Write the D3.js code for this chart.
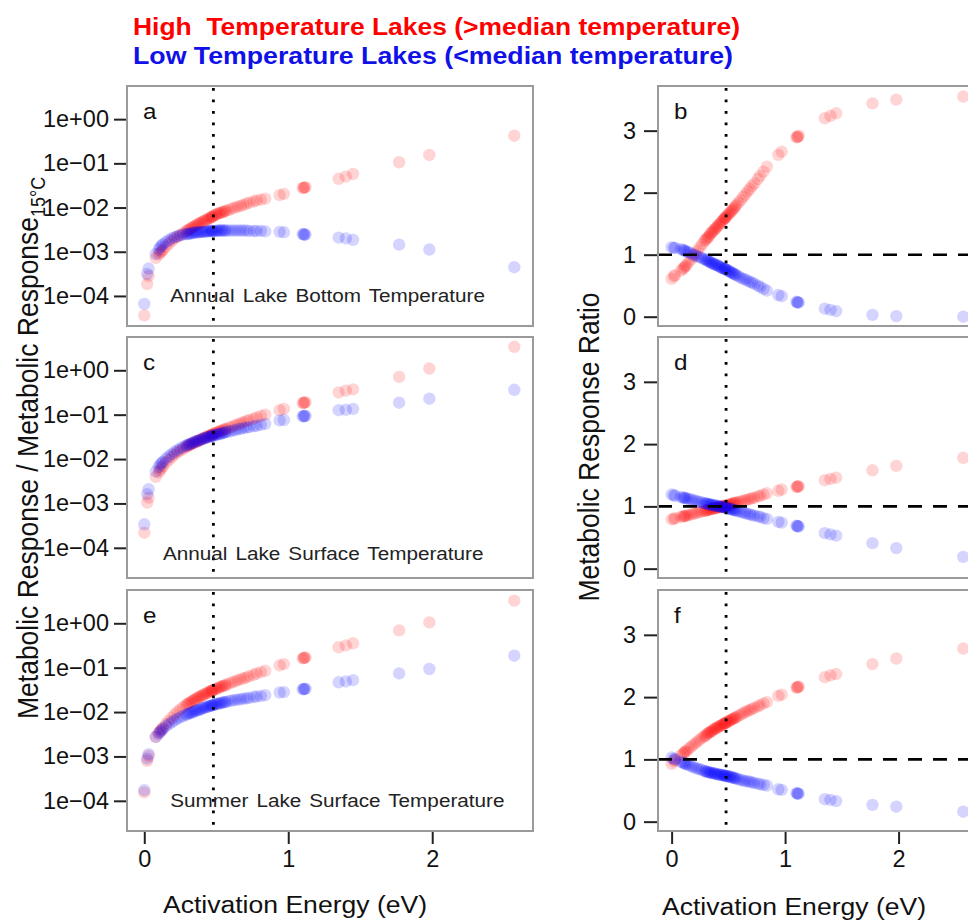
<!DOCTYPE html>
<head>
  <meta charset="utf-8">
  <script src="https://d3js.org/d3.v7.min.js"></script>
  <style>
    body { margin: 0; background: #fff; font-family: "Liberation Sans", Arial, sans-serif; }
    svg { display: block; }
    text { white-space: pre; }
  </style>
</head>
<body>
  <svg width="968" height="921"></svg>
  <script>
    // activation energy (eV) of each response, shared by every panel
    // (last row: responses read from the dense middle of the band)
    var energy = [0.00, 0.02, 0.03, 0.08,
      0.10, 0.11, 0.12, 0.13,
      0.15, 0.17, 0.19, 0.21, 0.23, 0.25, 0.27, 0.29,
      0.31, 0.33, 0.35, 0.36, 0.38, 0.40, 0.41, 0.43, 0.44,
      0.46, 0.47, 0.48, 0.49,
      0.51, 0.53, 0.55, 0.57, 0.59, 0.61, 0.63, 0.65, 0.67, 0.69, 0.71, 0.73,
      0.76, 0.78, 0.81, 0.84,
      0.94, 0.97,
      1.10, 1.11, 1.12,
      1.35, 1.40, 1.45,
      1.77, 1.98, 2.57,
      0.30, 0.32, 0.34, 0.37, 0.39, 0.42, 0.45, 0.47, 0.50, 0.52, 0.54, 0.56, 1.11];

    // log10 of metabolic response / response at 15C
    var bottomHighLog = [-4.44, -3.73, -3.55, -3.14,
      -3.06, -3.02, -2.99, -2.96,
      -2.89, -2.82, -2.76, -2.70, -2.66, -2.62, -2.58, -2.54,
      -2.50, -2.46, -2.42, -2.40, -2.36, -2.33, -2.31, -2.28, -2.26,
      -2.23, -2.21, -2.19, -2.17,
      -2.14, -2.12, -2.10, -2.07, -2.05, -2.02, -2.00, -1.98, -1.96, -1.94, -1.91, -1.89,
      -1.86, -1.84, -1.82, -1.80,
      -1.72, -1.69,
      -1.56, -1.55, -1.54,
      -1.35, -1.30, -1.24,
      -0.975, -0.81, -0.375,
      -2.52, -2.48, -2.44, -2.38, -2.35, -2.30, -2.25, -2.21, -2.16, -2.13, -2.11, -2.08, -1.55];
    var bottomLowLog = [-4.18, -3.50, -3.38, -3.05,
      -2.95, -2.90, -2.86, -2.83,
      -2.78, -2.74, -2.70, -2.67, -2.65, -2.63, -2.61, -2.60,
      -2.59, -2.58, -2.57, -2.56, -2.56, -2.55, -2.55, -2.54, -2.54,
      -2.53, -2.53, -2.53, -2.53,
      -2.52, -2.52, -2.52, -2.52, -2.52, -2.52, -2.52, -2.52, -2.52, -2.52, -2.52, -2.53,
      -2.53, -2.53, -2.53, -2.54,
      -2.55, -2.56,
      -2.60, -2.61, -2.61,
      -2.68, -2.70, -2.73,
      -2.84, -2.95, -3.35,
      -2.60, -2.59, -2.57, -2.56, -2.55, -2.55, -2.54, -2.53, -2.53, -2.52, -2.52, -2.52, -2.61];
    var surfaceHighLog = [-3.66, -2.98, -2.87, -2.40,
      -2.30, -2.25, -2.20, -2.16,
      -2.08, -2.02, -1.96, -1.90, -1.85, -1.81, -1.77, -1.73,
      -1.69, -1.66, -1.63, -1.61, -1.58, -1.55, -1.53, -1.50, -1.49,
      -1.46, -1.45, -1.43, -1.42,
      -1.39, -1.37, -1.34, -1.32, -1.29, -1.27, -1.24, -1.22, -1.19, -1.17, -1.14, -1.12,
      -1.09, -1.06, -1.03, -1.00,
      -0.90, -0.87,
      -0.74, -0.73, -0.72,
      -0.50, -0.46, -0.43,
      -0.15, 0.04, 0.53,
      -1.71, -1.68, -1.64, -1.60, -1.57, -1.52, -1.48, -1.45, -1.41, -1.38, -1.36, -1.33, -0.73];
    var surfaceLowLog = [-3.47, -2.79, -2.68, -2.28,
      -2.18, -2.13, -2.09, -2.06,
      -1.99, -1.94, -1.89, -1.84, -1.80, -1.76, -1.73, -1.70,
      -1.67, -1.64, -1.61, -1.60, -1.58, -1.55, -1.54, -1.52, -1.51,
      -1.49, -1.48, -1.47, -1.46,
      -1.44, -1.43, -1.41, -1.39, -1.38, -1.36, -1.35, -1.33, -1.32, -1.30, -1.29, -1.28,
      -1.26, -1.25, -1.23, -1.21,
      -1.13, -1.12,
      -1.04, -1.03, -1.03,
      -0.90, -0.89, -0.87,
      -0.73, -0.64, -0.44,
      -1.68, -1.66, -1.63, -1.59, -1.57, -1.53, -1.50, -1.48, -1.45, -1.44, -1.42, -1.40, -1.03];
    var summerHighLog = [-3.81, -3.10, -2.99, -2.56,
      -2.47, -2.43, -2.39, -2.35,
      -2.27, -2.20, -2.13, -2.06, -2.00, -1.94, -1.89, -1.84,
      -1.80, -1.76, -1.72, -1.70, -1.66, -1.63, -1.61, -1.58, -1.56,
      -1.53, -1.52, -1.50, -1.49,
      -1.46, -1.43, -1.41, -1.38, -1.36, -1.33, -1.31, -1.28, -1.26, -1.24, -1.22, -1.19,
      -1.16, -1.13, -1.10, -1.07,
      -0.95, -0.92,
      -0.79, -0.78, -0.77,
      -0.54, -0.50, -0.45,
      -0.16, 0.02, 0.51,
      -1.82, -1.78, -1.74, -1.68, -1.65, -1.60, -1.55, -1.52, -1.48, -1.45, -1.42, -1.40, -0.78];
    var summerLowLog = [-3.76, -3.05, -2.95, -2.56,
      -2.49, -2.45, -2.41, -2.38,
      -2.32, -2.27, -2.23, -2.19, -2.15, -2.12, -2.09, -2.06,
      -2.03, -2.01, -1.98, -1.97, -1.95, -1.92, -1.91, -1.89, -1.88,
      -1.86, -1.85, -1.84, -1.83,
      -1.81, -1.80, -1.78, -1.77, -1.75, -1.74, -1.73, -1.72, -1.71, -1.70, -1.69, -1.68,
      -1.66, -1.65, -1.64, -1.62,
      -1.56, -1.55,
      -1.49, -1.48, -1.48,
      -1.33, -1.31, -1.28,
      -1.13, -1.03, -0.73,
      -2.05, -2.02, -2.00, -1.96, -1.94, -1.90, -1.87, -1.85, -1.82, -1.81, -1.79, -1.78, -1.48];

    // metabolic response ratio
    var bottomHighRatio = [0.61, 0.65, 0.67, 0.74,
      0.77, 0.79, 0.81, 0.83,
      0.88, 0.92, 0.97, 1.02, 1.07, 1.12, 1.17, 1.22,
      1.26, 1.30, 1.35, 1.37, 1.41, 1.45, 1.47, 1.51, 1.53,
      1.57, 1.59, 1.61, 1.63,
      1.67, 1.71, 1.75, 1.80, 1.84, 1.88, 1.93, 1.97, 2.02, 2.06, 2.11, 2.15,
      2.22, 2.27, 2.34, 2.42,
      2.61, 2.66,
      2.89, 2.90, 2.92,
      3.20, 3.24, 3.28,
      3.44, 3.50, 3.55,
      1.24, 1.28, 1.33, 1.39, 1.43, 1.49, 1.55, 1.59, 1.65, 1.69, 1.73, 1.78, 2.90];
    var bottomLowRatio = [1.12, 1.11, 1.11, 1.09,
      1.08, 1.07, 1.06, 1.05,
      1.04, 1.02, 1.00, 0.99, 0.97, 0.96, 0.94, 0.93,
      0.91, 0.89, 0.87, 0.86, 0.84, 0.83, 0.82, 0.80, 0.79,
      0.78, 0.77, 0.76, 0.75,
      0.73, 0.71, 0.69, 0.67, 0.65, 0.63, 0.61, 0.60, 0.58, 0.56, 0.55, 0.53,
      0.50, 0.48, 0.45, 0.42,
      0.35, 0.33,
      0.24, 0.23, 0.23,
      0.13, 0.11, 0.09,
      0.03, 0.01, 0.00,
      0.92, 0.90, 0.88, 0.85, 0.84, 0.81, 0.78, 0.77, 0.74, 0.72, 0.70, 0.68, 0.23];
    var surfaceHighRatio = [0.79, 0.80, 0.81, 0.83,
      0.84, 0.84, 0.85, 0.85,
      0.86, 0.87, 0.88, 0.89, 0.90, 0.91, 0.92, 0.93,
      0.94, 0.95, 0.96, 0.96, 0.97, 0.98, 0.98, 0.99, 1.00,
      1.00, 1.01, 1.01, 1.02,
      1.03, 1.04, 1.05, 1.06, 1.07, 1.08, 1.09, 1.10, 1.11, 1.12, 1.13, 1.14,
      1.16, 1.17, 1.19, 1.21,
      1.25, 1.27,
      1.31, 1.32, 1.32,
      1.42, 1.44, 1.46,
      1.58, 1.65, 1.78,
      0.93, 0.94, 0.95, 0.97, 0.97, 0.99, 1.00, 1.01, 1.02, 1.03, 1.05, 1.06, 1.32];
    var surfaceLowRatio = [1.19, 1.18, 1.17, 1.15,
      1.14, 1.14, 1.13, 1.13,
      1.12, 1.11, 1.10, 1.09, 1.08, 1.07, 1.06, 1.05,
      1.04, 1.03, 1.03, 1.02, 1.01, 1.01, 1.00, 1.00, 0.99,
      0.99, 0.98, 0.98, 0.97,
      0.96, 0.95, 0.94, 0.93, 0.92, 0.91, 0.90, 0.89, 0.88, 0.87, 0.86, 0.85,
      0.84, 0.83, 0.81, 0.80,
      0.75, 0.74,
      0.69, 0.68, 0.68,
      0.57, 0.55, 0.53,
      0.41, 0.33, 0.19,
      1.05, 1.04, 1.03, 1.02, 1.01, 1.00, 0.99, 0.98, 0.97, 0.96, 0.95, 0.94, 0.68];
    var summerHighRatio = [0.93, 0.97, 0.99, 1.06,
      1.09, 1.11, 1.12, 1.14,
      1.17, 1.20, 1.23, 1.26, 1.29, 1.32, 1.35, 1.37,
      1.40, 1.43, 1.45, 1.46, 1.49, 1.51, 1.52, 1.54, 1.55,
      1.57, 1.58, 1.59, 1.60,
      1.62, 1.64, 1.66, 1.68, 1.70, 1.72, 1.74, 1.76, 1.78, 1.79, 1.81, 1.83,
      1.85, 1.87, 1.90, 1.92,
      2.02, 2.04,
      2.15, 2.16, 2.17,
      2.32, 2.35, 2.37,
      2.53, 2.62, 2.78,
      1.38, 1.42, 1.44, 1.48, 1.50, 1.53, 1.56, 1.58, 1.61, 1.63, 1.65, 1.67, 2.16];
    var summerLowRatio = [1.03, 1.01, 1.00, 0.96,
      0.95, 0.94, 0.93, 0.92,
      0.91, 0.89, 0.88, 0.86, 0.85, 0.84, 0.83, 0.81,
      0.80, 0.79, 0.78, 0.78, 0.77, 0.76, 0.76, 0.75, 0.75,
      0.74, 0.74, 0.73, 0.73,
      0.72, 0.71, 0.70, 0.69, 0.68, 0.67, 0.66, 0.65, 0.65, 0.64, 0.63, 0.62,
      0.61, 0.60, 0.59, 0.58,
      0.52, 0.51,
      0.46, 0.45, 0.45,
      0.36, 0.35, 0.33,
      0.27, 0.24, 0.16,
      0.81, 0.80, 0.79, 0.78, 0.77, 0.76, 0.75, 0.74, 0.73, 0.72, 0.71, 0.70, 0.45];

    var logTicks = [1, 0.1, 0.01, 0.001, 0.0001];
    var ratioTicks = [0, 1, 2, 3];
    var energyTicks = [0, 1, 2];
    var medianEnergy = 0.48;

    var panels = [
      {letter: 'a', col: 0, row: 0, high: bottomHighLog, low: bottomLowLog, log: true,
        note: 'Annual Lake Bottom Temperature', noteE: 0.18, noteY: -4.0},
      {letter: 'b', col: 1, row: 0, high: bottomHighRatio, low: bottomLowRatio},
      {letter: 'c', col: 0, row: 1, high: surfaceHighLog, low: surfaceLowLog, log: true,
        note: 'Annual Lake Surface Temperature', noteE: 0.13, noteY: -4.15},
      {letter: 'd', col: 1, row: 1, high: surfaceHighRatio, low: surfaceLowRatio},
      {letter: 'e', col: 0, row: 2, high: summerHighLog, low: summerLowLog, log: true,
        note: 'Summer Lake Surface Temperature', noteE: 0.18, noteY: -4.0},
      {letter: 'f', col: 1, row: 2, high: summerHighRatio, low: summerLowRatio}
    ];

    var colX = [[127, 533], [658, 978]];
    var rowY = [[86, 326], [337, 578], [590, 831]];
    var red = 'rgba(255,0,0,0.17)';
    var blue = 'rgba(0,0,255,0.17)';
    var font = '"Liberation Sans", Arial, sans-serif';

    var svg = d3.select('svg');

    // text with a horizontal stretch, as in the original figure
    function stext(parent, x, y, str, size, sx, anchor, rot) {
      var g = parent.append('g')
        .attr('transform', 'translate(' + [x, y] + ')scale(' + sx + ',1)' + (rot ? 'rotate(' + rot + ')' : ''));
      return g.append('text')
        .attr('text-anchor', anchor || 'start')
        .style('font-family', font)
        .style('font-size', size + 'px')
        .attr('fill', '#111')
        .text(str);
    }

    function logLabel(d) {
      var e = Math.round(Math.log10(d));
      return '1e' + (e < 0 ? '\u2212' : '+') + ('0' + Math.abs(e));
    }

    panels.forEach(function(p, k) {
      var xr = colX[p.col], yr = rowY[p.row];
      var x = d3.scaleLinear().domain([-0.12, 2.70]).range(xr);
      var y = p.log
        ? d3.scaleLog().domain([Math.pow(10, -4.68), Math.pow(10, 0.75)]).range([yr[1], yr[0]])
        : d3.scaleLinear().domain([-0.15, 3.72]).range([yr[1], yr[0]]);
      var val = function(v) { return p.log ? Math.pow(10, v) : v; };

      var clipId = 'clip' + k;
      svg.append('clipPath').attr('id', clipId)
        .append('rect')
        .attr('x', xr[0]).attr('y', yr[0])
        .attr('width', xr[1] - xr[0]).attr('height', yr[1] - yr[0]);

      var g = svg.append('g').attr('clip-path', 'url(#' + clipId + ')');

      [[p.high, red], [p.low, blue]].forEach(function(s) {
        g.append('g').selectAll('circle')
          .data(energy.map(function(e, i) { return {e: e, v: val(s[0][i])}; }))
          .enter().append('circle')
          .attr('cx', function(d) { return x(d.e); })
          .attr('cy', function(d) { return y(d.v); })
          .attr('r', 6.2)
          .attr('fill', s[1]);
      });

      if (!p.log) {
        g.append('line')
          .attr('x1', xr[0]).attr('x2', xr[1])
          .attr('y1', y(1)).attr('y2', y(1))
          .attr('stroke', '#000').attr('stroke-width', 2.6)
          .attr('stroke-dasharray', '14,11');
      }

      g.append('line')
        .attr('x1', x(medianEnergy)).attr('x2', x(medianEnergy))
        .attr('y1', yr[0] + 2).attr('y2', yr[1])
        .attr('stroke', '#000').attr('stroke-width', 2.8)
        .attr('stroke-dasharray', '2.8,8.7');

      svg.append('rect')
        .attr('x', xr[0]).attr('y', yr[0])
        .attr('width', xr[1] - xr[0]).attr('height', yr[1] - yr[0])
        .attr('fill', 'none').attr('stroke', '#9a9a9a').attr('stroke-width', 2);

      // y axis
      var yAxis = p.log
        ? d3.axisLeft(y).tickValues(logTicks).tickFormat(logLabel).tickSize(12).tickPadding(5)
        : d3.axisLeft(y).tickValues(ratioTicks).tickFormat(d3.format('d')).tickSize(13).tickPadding(8);
      var ya = svg.append('g').attr('transform', 'translate(' + (xr[0] - 1) + ',0)').call(yAxis);
      ya.select('.domain').remove();
      ya.selectAll('line').attr('stroke', '#222').attr('stroke-width', 2);
      ya.selectAll('text').attr('font-size', 23.5).attr('font-family', font).attr('fill', '#111');

      // x axis on the bottom row
      if (p.row === 2) {
        var xa = svg.append('g').attr('transform', 'translate(0,' + (yr[1] + 1) + ')')
          .call(d3.axisBottom(x).tickValues(energyTicks).tickFormat(d3.format('d')).tickSize(12).tickPadding(6));
        xa.select('.domain').remove();
        xa.selectAll('line').attr('stroke', '#222').attr('stroke-width', 2);
        xa.selectAll('text').attr('font-size', 23.5).attr('font-family', font).attr('fill', '#111');
      }

      stext(svg, xr[0] + 16, yr[0] + 33, p.letter, 22, 1.1);

      if (p.note) {
        stext(svg, x(p.noteE), y(Math.pow(10, p.noteY)) + 6, p.note, 18.5, 1.12)
          .attr('word-spacing', 2)
          .attr('fill', '#222');
      }
    });

    // axis titles
    stext(svg, 295, 913, 'Activation Energy (eV)', 23.5, 1.13, 'middle');
    stext(svg, 794, 915, 'Activation Energy (eV)', 23.5, 1.13, 'middle');
    stext(svg, 599, 447, 'Metabolic Response Ratio', 26.5, 1.1, 'middle', -90);
    var yl = stext(svg, 38, 719, 'Metabolic Response / Metabolic Response', 26.5, 1.1, 'start', -90);
    yl.append('tspan').attr('dy', 6).style('font-size', '18px').text('15\u00B0C');

    // legend header
    var headFont = '"Liberation Sans Narrow", "Arial Narrow", "Liberation Sans", sans-serif';
    svg.append('text')
      .attr('x', 133).attr('y', 35)
      .attr('textLength', 607).attr('lengthAdjust', 'spacingAndGlyphs')
      .style('font-family', headFont)
      .style('font-weight', 'bold').style('font-size', '24px')
      .attr('fill', '#ff0000')
      .text('High  Temperature Lakes (>median temperature)');
    svg.append('text')
      .attr('x', 133).attr('y', 64)
      .attr('textLength', 600).attr('lengthAdjust', 'spacingAndGlyphs')
      .style('font-family', headFont)
      .style('font-weight', 'bold').style('font-size', '24px')
      .attr('fill', '#1010e8')
      .text('Low Temperature Lakes (<median temperature)');
  </script>
</body>
